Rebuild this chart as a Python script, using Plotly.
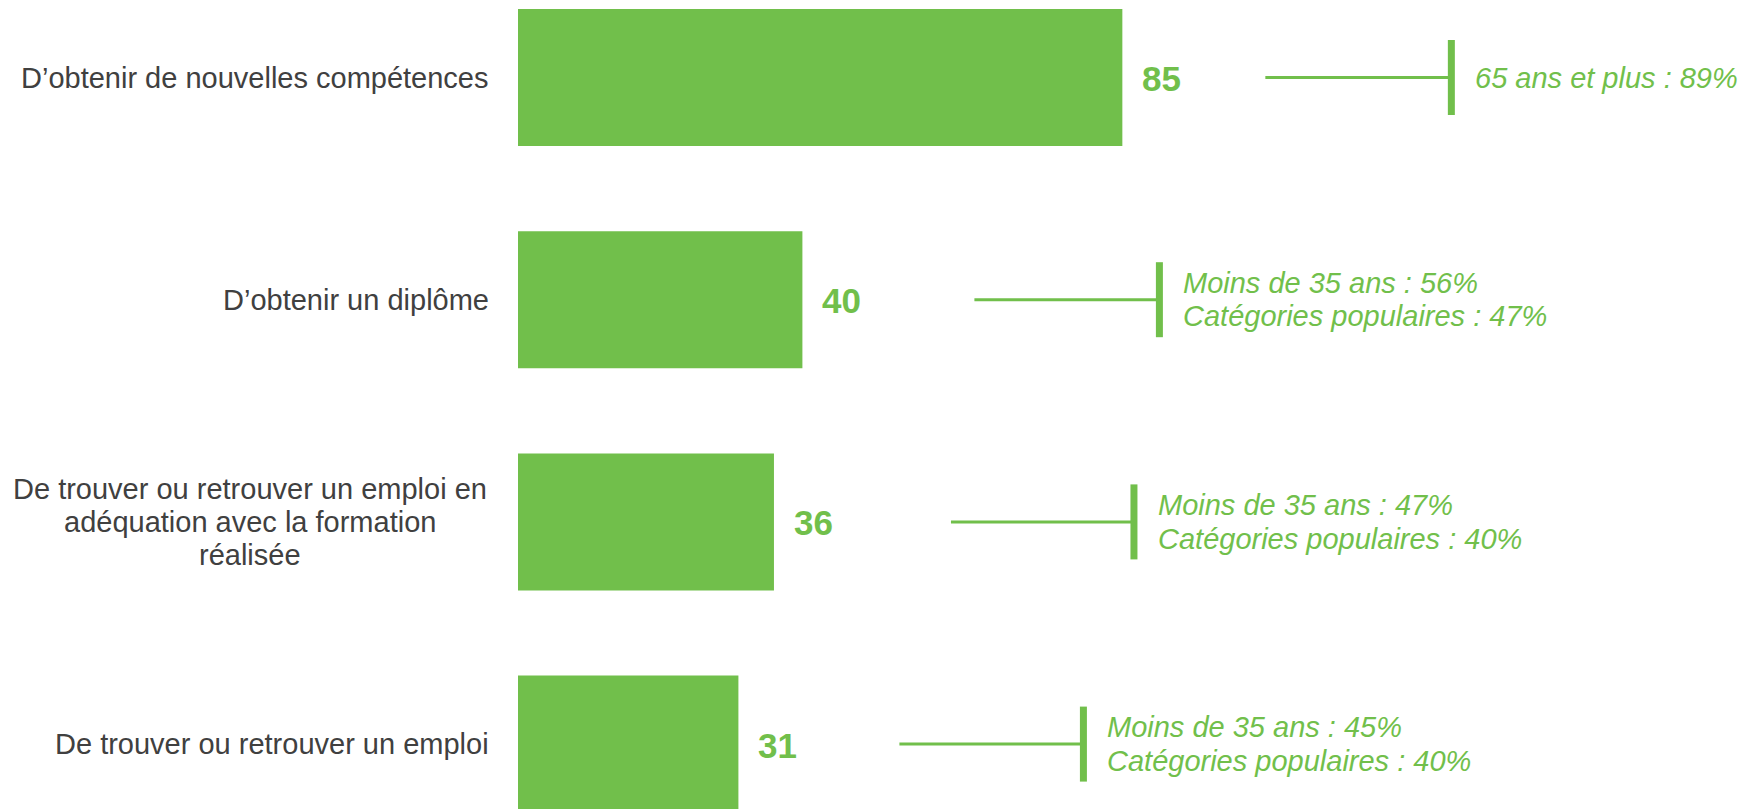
import plotly.graph_objects as go

# ---- data ----
categories = [
    ["D’obtenir de nouvelles compétences"],
    ["D’obtenir un diplôme"],
    ["De trouver ou retrouver un emploi en", "adéquation avec la formation", "réalisée"],
    ["De trouver ou retrouver un emploi"],
]
values = [85, 40, 36, 31]
details = [
    ["65 ans et plus : 89%"],
    ["Moins de 35 ans : 56%", "Catégories populaires : 47%"],
    ["Moins de 35 ans : 47%", "Catégories populaires : 40%"],
    ["Moins de 35 ans : 45%", "Catégories populaires : 40%"],
]

# ---- styling / layout constants (pixels) ----
GREEN = "#71BF4B"
GREY = "#404040"
FONT = "Arial, Liberation Sans, Helvetica, sans-serif"
W, H = 1742, 809
LEFT = 518
PX_PER_UNIT = 7.11
ROW_PX = 222.2
FIRST_CENTER = 77.5
BAR_PX = 137
LINE_PX = 33.4
LABEL_GAP = 27
MULTI_CENTER = 268        # centre of multi-line label block, px left of axis
conn_start_px = [143, 172, 177, 161]   # connector start, px right of bar end
conn_end_px = [329, 357, 360, 345]     # connector end (vertical tick), px right of bar end

ypos = list(range(len(values)))
x_max = (W - LEFT) / PX_PER_UNIT
y_top = -FIRST_CENTER / ROW_PX
y_bot = (H - FIRST_CENTER) / ROW_PX

fig = go.Figure(
    go.Bar(
        x=values,
        y=ypos,
        orientation="h",
        width=BAR_PX / ROW_PX,
        marker=dict(color=GREEN, line=dict(width=0)),
        hoverinfo="skip",
    )
)

annotations = []
shapes = []
for i, (cat, v, det) in enumerate(zip(categories, values, details)):
    # category label (one annotation per line)
    n = len(cat)
    for j, line in enumerate(cat):
        shift = (n - 1) / 2 * LINE_PX - j * LINE_PX
        if n == 1:
            xa, xs = "right", -LABEL_GAP
        else:
            xa, xs = "center", -MULTI_CENTER
        annotations.append(dict(
            x=0, xref="paper", y=ypos[i], yref="y", xanchor=xa, yanchor="middle",
            xshift=xs, yshift=shift, text=line, showarrow=False,
            font=dict(family=FONT, size=29, color=GREY),
        ))
    # value label
    annotations.append(dict(
        x=v, xref="x", y=ypos[i], yref="y", xanchor="left", yanchor="middle",
        xshift=18, yshift=-1, text=f"<b>{v}</b>", showarrow=False,
        font=dict(family=FONT, size=35, color=GREEN),
    ))
    # connector lines
    shapes.append(dict(
        type="line", xref="x", yref="y", xsizemode="pixel", ysizemode="pixel",
        xanchor=v, yanchor=ypos[i], x0=conn_start_px[i], x1=conn_end_px[i], y0=0, y1=0,
        line=dict(color=GREEN, width=3),
    ))
    shapes.append(dict(
        type="line", xref="x", yref="y", xsizemode="pixel", ysizemode="pixel",
        xanchor=v, yanchor=ypos[i], x0=conn_end_px[i], x1=conn_end_px[i], y0=-37.5, y1=37.5,
        line=dict(color=GREEN, width=7),
    ))
    # detail text lines
    n = len(det)
    for j, line in enumerate(det):
        shift = (n - 1) / 2 * LINE_PX - j * LINE_PX
        annotations.append(dict(
            x=v, xref="x", y=ypos[i], yref="y", xanchor="left", yanchor="middle",
            xshift=conn_end_px[i] + 22, yshift=shift, text=f"<i>{line}</i>",
            showarrow=False,
            font=dict(family=FONT, size=29, color=GREEN),
        ))

fig.update_layout(
    width=W, height=H,
    margin=dict(l=LEFT, r=0, t=0, b=0),
    paper_bgcolor="white", plot_bgcolor="white",
    showlegend=False,
    xaxis=dict(range=[0, x_max], visible=False, fixedrange=True),
    yaxis=dict(range=[y_bot, y_top], visible=False, fixedrange=True),
    annotations=annotations,
    shapes=shapes,
)

fig.write_html("out.html", post_script="document.body.style.margin='0';",
               config={"displayModeBar": False})
